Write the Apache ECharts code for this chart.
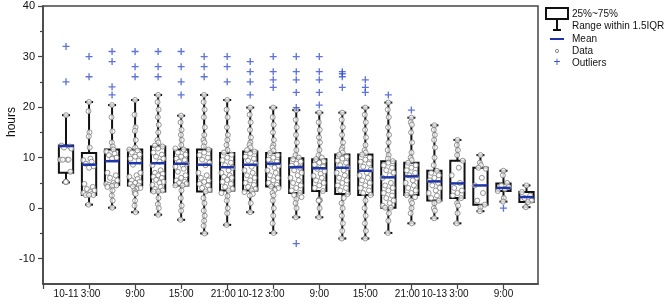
<html>
<head>
<meta charset="UTF-8">
<title>hours box chart</title>
<script type="text/javascript" src="https://cdn.jsdelivr.net/npm/echarts@6/dist/echarts.min.js"></script>
<style>
	html, body { margin: 0; padding: 0; background: #fff; }
	#main { width: 667px; height: 304px; }
</style>
</head>
<body>
<div id="main"></div>
<script type="text/javascript">
	// one box every 3 hours, 10-11 0:00 .. 10-13 12:00
	var timeLabels = ['10-11 0:00','10-11 3:00','10-11 6:00','10-11 9:00','10-11 12:00','10-11 15:00','10-11 18:00','10-11 21:00',
		'10-12 0:00','10-12 3:00','10-12 6:00','10-12 9:00','10-12 12:00','10-12 15:00','10-12 18:00','10-12 21:00',
		'10-13 0:00','10-13 3:00','10-13 6:00','10-13 9:00','10-13 12:00'];

	// x tick labels (box index -> text)
	var xLabelPos = [0, 1, 3, 5, 7, 8, 9, 11, 13, 15, 16, 17, 19];
	var xLabelText = ['10-11', '3:00', '9:00', '15:00', '21:00', '10-12', '3:00', '9:00', '15:00', '21:00', '10-13', '3:00', '9:00'];
	var xTickPos = [-1, 1, 3, 5, 7, 9, 11, 13, 15, 17, 19];
	var yLabelPos = [-10, 0, 10, 20, 30, 40];
	var yMinorPos = [-5, 5, 15, 25, 35];

	// box statistics
	var lowWhisker  = [5.1, 0.7, 0.1, -0.8, -1.3, -2.3, -5.0, -3.3, -0.8, -4.9, -1.8, -1.8, -6.0, -6.0, -4.9, -3.0, -2.0, -3.0, -0.6, 1.3, 0.2];
	var q1          = [7.0, 2.6, 4.6, 4.5, 3.3, 4.5, 3.3, 3.5, 3.5, 4.3, 3.0, 3.4, 2.8, 2.6, 0.1, 2.6, 1.5, 2.0, 0.7, 3.4, 1.2];
	var q3          = [12.4, 10.9, 11.6, 11.6, 12.2, 11.6, 11.6, 10.9, 11.2, 10.9, 9.9, 9.7, 10.6, 10.6, 9.3, 9.0, 7.4, 9.4, 8.0, 4.9, 3.2];
	var highWhisker = [18.4, 21.0, 20.4, 21.4, 22.4, 18.3, 22.4, 21.4, 19.9, 19.9, 19.4, 18.9, 18.9, 19.9, 20.9, 17.9, 16.4, 13.5, 10.5, 7.4, 4.5];
	var means       = [12.3, 8.6, 9.3, 8.9, 8.9, 8.8, 8.6, 8.1, 8.6, 8.8, 8.1, 7.9, 8.0, 7.4, 6.1, 6.3, 5.3, 4.9, 4.5, 4.0, 2.2];

	var outliers = [
		[32, 25], [30, 26], [31, 29, 24, 22.4], [31, 28, 26], [31, 28, 26], [31, 28, 25, 22.4],
		[30, 28, 26], [30, 28, 25], [29, 27, 25, 22.4], [30, 27, 25.4, 23.9], [30, 27, 25.4, 22.9, 19.9, -7],
		[30, 27, 25.4, 22.9, 20.4], [27, 26.6, 26, 23.9], [25.4, 23.9, 22.9], [22.4], [19.4],
		[], [], [], [0], []
	];

	var dataPoints = [
		[18.4, 12.4, 12.2, 12.0, 11.8, 9.6, 9.6, 9.6, 9.6, 7.2, 5.2, 5.2, 5.2, 5.2],
		[21.0, 19.2, 15.0, 14.2, 12.0, 9.8, 9.5, 9.2, 8.8, 8.3, 8.0, 4.8, 4.2, 3.8, 3.5, 3.2, 3.0, 2.8, 2.6, 2.6, 2.6, 0.7],
		[20.4, 18.0, 15.2, 13.0, 12.2, 11.6, 11.2, 10.8, 10.5, 10.0, 9.8, 7.0, 6.5, 6.0, 5.5, 5.0, 4.8, 4.6, 4.6, 4.5, 4.4, 4.2, 3.5, 2.5, 1.5, 0.1],
		[21.4, 18.5, 16.0, 15.3, 13.5, 12.0, 11.6, 11.4, 11.0, 10.6, 10.2, 9.8, 9.4, 8.6, 7.0, 6.5, 6.2, 5.8, 5.5, 5.2, 5.0, 4.8, 4.5, 4.3, 4.0, 3.8, 3.5, 3.2, 3.0, 2.8, 1.5, 0.5, -0.8],
		[22.4, 21.0, 19.5, 18.0, 16.5, 15.0, 13.5, 13.0, 12.4, 12.2, 11.8, 11.0, 10.6, 10.2, 9.8, 9.2, 8.5, 7.5, 7.0, 6.8, 6.5, 6.2, 6.0, 5.6, 5.2, 5.0, 4.6, 4.2, 3.8, 3.5, 3.3, 3.3, 2.0, 0.8, 0.0, -1.3],
		[18.3, 17.0, 15.5, 14.5, 13.5, 12.5, 11.8, 11.6, 11.0, 10.6, 10.2, 9.8, 9.5, 9.2, 8.8, 8.5, 8.2, 7.8, 7.2, 6.5, 6.0, 5.5, 5.2, 5.0, 4.8, 4.5, 4.5, 3.5, 2.0, 0.5, -0.5, -2.3],
		[22.4, 21.0, 19.5, 18.0, 16.0, 14.5, 13.5, 13.0, 12.2, 11.6, 11.0, 10.5, 10.0, 9.6, 9.0, 8.5, 7.0, 6.5, 6.0, 5.5, 5.2, 4.8, 4.5, 4.0, 3.6, 3.3, 2.0, 1.0, -0.5, -1.5, -2.5, -3.5, -5.0],
		[21.4, 19.5, 18.0, 16.0, 14.5, 13.5, 12.5, 11.5, 11.0, 10.6, 10.0, 9.5, 9.0, 8.5, 8.0, 7.5, 7.0, 6.5, 6.2, 6.0, 5.6, 5.2, 4.8, 4.2, 3.8, 3.5, 3.0, 2.4, 1.5, 0.0, -1.0, -3.3],
		[19.9, 18.5, 17.0, 15.5, 14.0, 13.0, 12.5, 12.0, 11.5, 11.2, 10.8, 10.2, 9.8, 9.4, 8.8, 8.2, 7.5, 7.0, 6.5, 6.0, 5.5, 5.0, 4.6, 4.2, 3.8, 3.5, 3.2, 2.8, 2.5, 1.0, -0.8],
		[19.9, 18.0, 16.5, 15.0, 13.5, 12.5, 12.0, 11.4, 10.9, 10.5, 10.0, 9.6, 9.2, 8.8, 8.4, 8.0, 7.5, 7.0, 6.5, 6.0, 5.5, 5.0, 4.6, 4.3, 4.0, 3.6, 3.0, 2.5, 1.5, 0.0, -1.5, -3.0, -4.9],
		[19.4, 17.5, 16.0, 14.5, 13.0, 11.5, 10.5, 10.0, 9.7, 9.2, 8.8, 8.4, 8.0, 7.5, 7.0, 6.5, 6.0, 5.5, 5.0, 4.5, 4.0, 3.5, 3.0, 2.6, 2.2, 1.8, 1.0, 0.0, -1.8],
		[18.9, 17.0, 15.5, 14.0, 13.0, 11.5, 10.5, 10.0, 9.7, 9.3, 9.0, 8.6, 8.2, 7.8, 7.3, 6.8, 6.4, 6.0, 5.5, 5.0, 4.5, 4.0, 3.4, 1.7, 1.6, 1.5, 1.5, 0.0, -1.8],
		[18.9, 17.5, 16.0, 14.5, 13.0, 12.0, 11.5, 11.0, 10.6, 10.2, 9.8, 9.4, 9.0, 8.5, 8.0, 7.5, 7.0, 6.5, 6.0, 5.5, 5.0, 4.5, 4.0, 3.5, 2.8, 2.0, 1.0, 0.0, -1.5, -3.0, -4.5, -6.0],
		[19.9, 18.5, 17.0, 15.5, 14.0, 12.5, 11.5, 11.0, 10.6, 10.0, 9.6, 9.2, 8.8, 8.2, 7.6, 7.0, 6.5, 6.0, 5.5, 5.0, 4.5, 4.0, 3.5, 3.0, 2.6, 1.5, 0.0, -1.5, -3.0, -4.5, -6.0],
		[20.9, 19.5, 18.0, 16.0, 14.5, 13.0, 11.5, 10.5, 9.8, 9.3, 9.0, 8.5, 8.0, 7.5, 7.0, 6.5, 6.0, 5.0, 4.5, 4.0, 3.5, 3.0, 2.5, 2.0, 1.5, 1.0, 0.5, 0.1, 0.1, -1.0, -2.5, -4.9],
		[17.9, 17.0, 16.5, 15.0, 13.0, 11.0, 10.0, 9.5, 9.0, 8.5, 8.0, 7.5, 7.0, 6.5, 6.0, 5.5, 5.0, 4.5, 4.0, 3.5, 3.0, 2.6, 2.2, 1.5, 1.0, 0.0, -1.0, -3.0],
		[16.4, 15.5, 14.5, 13.5, 12.0, 10.0, 8.5, 7.4, 7.0, 6.5, 6.0, 5.5, 5.0, 4.5, 4.0, 3.5, 3.0, 2.5, 2.0, 1.5, 1.0, 0.0, -0.5, -2.0],
		[13.5, 12.5, 11.5, 10.5, 9.4, 8.0, 6.5, 5.0, 4.0, 3.5, 3.0, 2.5, 2.0, 1.0, 0.5, -1.0, -3.0],
		[10.5, 9.0, 8.5, 8.0, 7.8, 6.0, 4.5, 3.0, 1.5, 0.7, 0.2, -0.6],
		[7.4, 6.5, 5.0, 4.5, 4.2, 3.8, 3.4, 2.0, 1.3],
		[4.5, 3.2, 2.5, 2.0, 1.5, 1.2, 0.2]
	];

	var fontName = 'Liberation Sans, Arial, sans-serif';
	var jitter = [0, -0.2, 0.16, -0.09, 0.23, 0.06, -0.25, 0.11, -0.14, 0.19]; // spread of the circles, in box units

	var boxData = [], meanData = [], pointData = [], outlierData = [];
	for (var i = 0; i < timeLabels.length; i++) {
		boxData.push([i, lowWhisker[i], q1[i], q3[i], highWhisker[i]]);
		meanData.push([i, means[i]]);
		for (var j = 0; j < dataPoints[i].length; j++) {
			var v = dataPoints[i][j];
			var inBox = v >= q1[i] - 0.8 && v <= q3[i] + 0.3;
			pointData.push([i + jitter[j % jitter.length] * (inBox ? 1 : 0.12), v]);
		}
		for (var k = 0; k < outliers[i].length; k++) {
			outlierData.push([i, outliers[i][k]]);
		}
	}

	function renderBox(params, api) {
		var x = api.value(0);
		var lo = api.coord([x, api.value(1)]);
		var b1 = api.coord([x, api.value(2)]);
		var b3 = api.coord([x, api.value(3)]);
		var hi = api.coord([x, api.value(4)]);
		var w = api.size([1, 0])[0] * 0.62;
		var c = 4;
		var st = { stroke: '#111', lineWidth: 2, fill: null };
		return {
			type: 'group',
			children: [
				{ type: 'line', shape: { x1: lo[0], y1: lo[1], x2: b1[0], y2: b1[1] }, style: st },
				{ type: 'line', shape: { x1: b3[0], y1: b3[1], x2: hi[0], y2: hi[1] }, style: st },
				{ type: 'line', shape: { x1: lo[0] - c, y1: lo[1], x2: lo[0] + c, y2: lo[1] }, style: st },
				{ type: 'line', shape: { x1: hi[0] - c, y1: hi[1], x2: hi[0] + c, y2: hi[1] }, style: st },
				{ type: 'rect', shape: { x: b3[0] - w / 2, y: b3[1], width: w, height: b1[1] - b3[1] },
					style: { fill: 'rgba(255,255,255,0)', stroke: '#111', lineWidth: 2 } }
			]
		};
	}

	function renderMean(params, api) {
		var p = api.coord([api.value(0), api.value(1)]);
		var w = api.size([1, 0])[0] * 0.62;
		return {
			type: 'line',
			shape: { x1: p[0] - w / 2, y1: p[1], x2: p[0] + w / 2, y2: p[1] },
			style: { stroke: '#1f35a8', lineWidth: 2.5 }
		};
	}

	var plusPath = 'path://M3,0h1.4v3h3v1.4h-3v3h-1.4v-3h-3v-1.4h3z';
	var legendX = 572;

	var myChart = echarts.init(document.getElementById('main'), null, { renderer: 'canvas' });
	var option = {
		animation: false,
		grid: { left: 43, right: 129, top: 6, bottom: 20, show: true, borderColor: '#444', borderWidth: 1.5, backgroundColor: 'transparent' },
		xAxis: {
			type: 'value', min: -1, max: 20.5,
			splitLine: { show: false },
			axisLine: { show: true, onZero: false, lineStyle: { color: '#444', width: 1.5 } },
			axisTick: { show: true, length: 5, customValues: xTickPos, lineStyle: { color: '#444', width: 1.2 } },
			axisLabel: {
				customValues: xLabelPos, margin: 5, color: '#111', fontSize: 10, fontFamily: fontName,
				formatter: function (val) {
					var idx = xLabelPos.indexOf(Math.round(val));
					if (idx < 0) return '';
					var t = xLabelText[idx];
					// nudge the crowded labels apart a little
					if (t == '21:00') return '{e|' + t + '}';
					if (t == '3:00') return '{f|' + t + '}';
					return t;
				},
				rich: {
					e: { fontSize: 10, fontFamily: fontName, color: '#111', padding: [0, 8, 0, 0] },
					f: { fontSize: 10, fontFamily: fontName, color: '#111', padding: [0, 0, 0, 3] }
				}
			}
		},
		yAxis: [{
			type: 'value', min: -15, max: 40,
			splitLine: { show: false },
			axisLine: { show: true, onZero: false, lineStyle: { color: '#444', width: 1.5 } },
			axisTick: { show: true, length: 5, customValues: yLabelPos, lineStyle: { color: '#444', width: 1.2 } },
			axisLabel: { customValues: yLabelPos, margin: 8, color: '#111', fontSize: 11, fontFamily: fontName }
		}, {
			// minor ticks
			type: 'value', min: -15, max: 40, position: 'left',
			splitLine: { show: false },
			axisLine: { show: false, onZero: false },
			axisTick: { show: true, length: 3, customValues: yMinorPos, lineStyle: { color: '#444', width: 1.2 } },
			axisLabel: { show: false }
		}],
		graphic: [
			{ type: 'text', x: 12, y: 122, rotation: Math.PI / 2,
				style: { text: 'hours', font: '12px ' + fontName, fill: '#111', align: 'center', verticalAlign: 'middle' } },
			// legend
			{ type: 'rect', shape: { x: 546, y: 8, width: 22, height: 11 }, style: { fill: '#fff', stroke: '#111', lineWidth: 2 } },
			{ type: 'line', shape: { x1: 557, y1: 19, x2: 557, y2: 30 }, style: { stroke: '#111', lineWidth: 2 } },
			{ type: 'line', shape: { x1: 553, y1: 30, x2: 561, y2: 30 }, style: { stroke: '#111', lineWidth: 2 } },
			{ type: 'line', shape: { x1: 550, y1: 39, x2: 564, y2: 39 }, style: { stroke: '#1f35a8', lineWidth: 2 } },
			{ type: 'circle', shape: { cx: 557, cy: 51, r: 1.6 }, style: { fill: '#fff', stroke: '#888', lineWidth: 1 } },
			{ type: 'text', x: 557, y: 63, style: { text: '+', font: '12px Liberation Sans', fill: '#3550d0', align: 'center', verticalAlign: 'middle' } },
			{ type: 'text', x: legendX, y: 14, style: { text: '25%~75%', font: '10px Liberation Sans', fill: '#111', verticalAlign: 'middle' } },
			{ type: 'text', x: legendX, y: 26, style: { text: 'Range within 1.5IQR', font: '10px Liberation Sans', fill: '#111', verticalAlign: 'middle' } },
			{ type: 'text', x: legendX, y: 39, style: { text: 'Mean', font: '10px Liberation Sans', fill: '#111', verticalAlign: 'middle' } },
			{ type: 'text', x: legendX, y: 51, style: { text: 'Data', font: '10px Liberation Sans', fill: '#111', verticalAlign: 'middle' } },
			{ type: 'text', x: legendX, y: 63, style: { text: 'Outliers', font: '10px Liberation Sans', fill: '#111', verticalAlign: 'middle' } }
		],
		series: [{
			name: '25%~75%',
			type: 'custom',
			renderItem: renderBox,
			encode: { x: 0, y: [1, 2, 3, 4] },
			data: boxData,
			z: 2
		}, {
			name: 'Data',
			type: 'scatter',
			symbol: 'circle',
			symbolSize: 5,
			itemStyle: { color: '#fff', borderColor: '#7a7a7a', borderWidth: 1 },
			data: pointData,
			z: 3
		}, {
			name: 'Mean',
			type: 'custom',
			renderItem: renderMean,
			encode: { x: 0, y: 1 },
			data: meanData,
			z: 4
		}, {
			name: 'Outliers',
			type: 'scatter',
			symbol: plusPath,
			symbolSize: 7,
			itemStyle: { color: '#3550d0' },
			data: outlierData,
			z: 4
		}]
	};
	myChart.setOption(option);
</script>
</body>
</html>
